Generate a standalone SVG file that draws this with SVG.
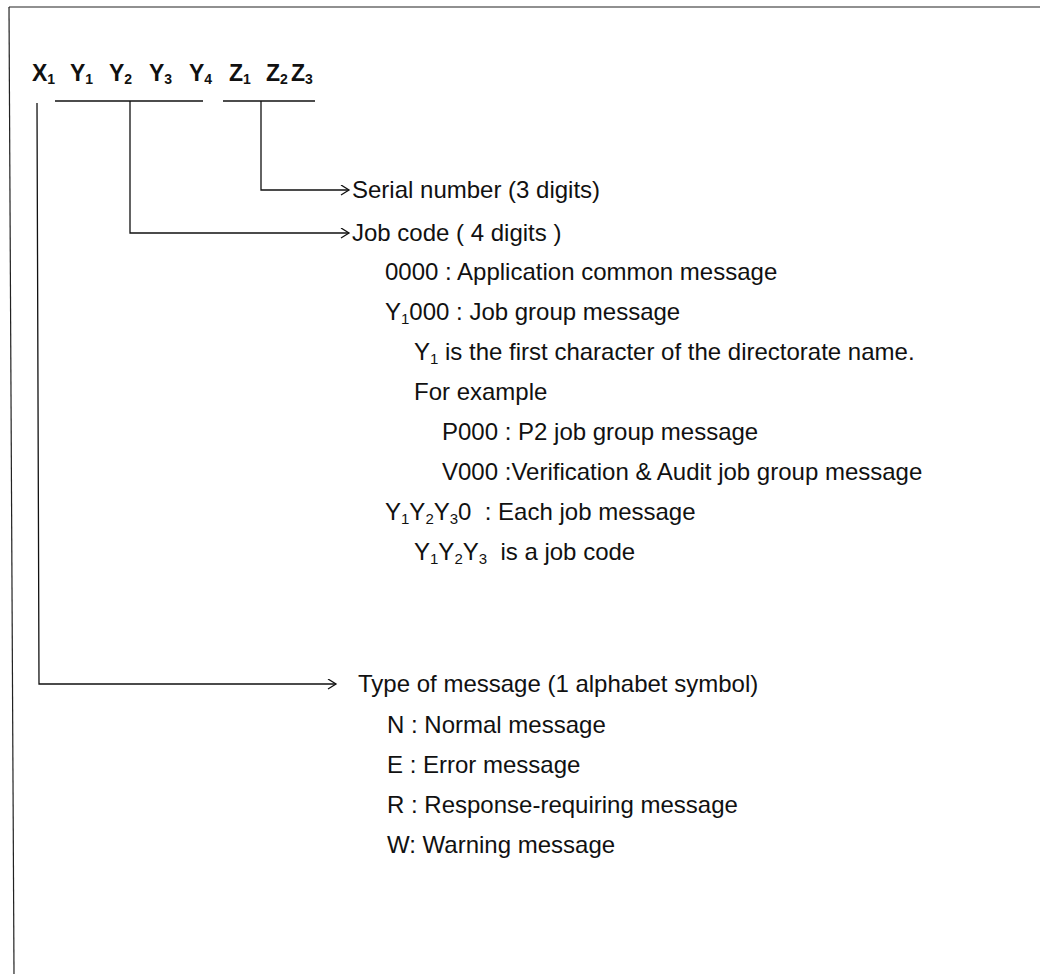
<svg xmlns="http://www.w3.org/2000/svg" width="1040" height="974" viewBox="0 0 1040 974">
  <style>
    .frame { stroke: #222; stroke-width: 1.2; fill: none; }
    .bar { stroke: #111; stroke-width: 1.4; fill: none; }
    .link { stroke: #111; stroke-width: 1.3; fill: none; }
    .hdr { font-family: "Liberation Sans", Arial, sans-serif; font-weight: bold; font-size: 23px; fill: #111; }
    .sub { font-size: 14px; }
    .t { font-family: "Liberation Sans", Arial, sans-serif; font-size: 24px; fill: #111; }
    .ts { font-size: 15px; }
  </style>
  <defs>
    <marker id="chev" markerWidth="12" markerHeight="12" refX="9" refY="5" orient="auto" markerUnits="userSpaceOnUse">
      <path d="M1,0 L9,5 L1,10" fill="none" stroke="#111" stroke-width="1.3"/>
    </marker>
  </defs>

  <rect x="0" y="0" width="1040" height="974" fill="#fff"/>

  <!-- page frame -->
  <g id="frame">
    <line class="frame" x1="9" y1="7" x2="1040" y2="7"/>
    <line class="frame" x1="9" y1="7" x2="14" y2="974"/>
  </g>

  <!-- code format header -->
  <g id="header">
    <text class="hdr" y="81">
      <tspan x="32">X</tspan><tspan class="sub" dy="3">1</tspan>
      <tspan x="70" dy="-3">Y</tspan><tspan class="sub" dy="3">1</tspan>
      <tspan x="109" dy="-3">Y</tspan><tspan class="sub" dy="3">2</tspan>
      <tspan x="149" dy="-3">Y</tspan><tspan class="sub" dy="3">3</tspan>
      <tspan x="189" dy="-3">Y</tspan><tspan class="sub" dy="3">4</tspan>
      <tspan x="229" dy="-3">Z</tspan><tspan class="sub" dy="3">1</tspan>
      <tspan x="266" dy="-3">Z</tspan><tspan class="sub" dy="3">2</tspan>
      <tspan x="291" dy="-3">Z</tspan><tspan class="sub" dy="3">3</tspan>
    </text>
    <line class="bar" x1="55" y1="101" x2="203" y2="101"/>
    <line class="bar" x1="223" y1="101" x2="315" y2="101"/>
  </g>

  <!-- leader lines -->
  <g id="connectors">
    <polyline class="link" points="261,101 261,190 349,190" marker-end="url(#chev)"/>
    <polyline class="link" points="130,101 130,233 349,233" marker-end="url(#chev)"/>
    <polyline class="link" points="37,103 39,684 336,684" marker-end="url(#chev)"/>
  </g>

  <!-- serial number field -->
  <g id="serial">
    <text class="t" x="352" y="198">Serial number (3 digits)</text>
  </g>

  <!-- job code field -->
  <g id="jobcode">
    <text class="t" x="352" y="241">Job code ( 4 digits )</text>
    <text class="t" x="385" y="280">0000 : Application common message</text>
    <text class="t" x="385" y="320">Y<tspan class="ts" dy="4">1</tspan><tspan dy="-4">000 : Job group message</tspan></text>
    <text class="t" x="414" y="360">Y<tspan class="ts" dy="4">1</tspan><tspan dy="-4"> is the first character of the directorate name.</tspan></text>
    <text class="t" x="414" y="400">For example</text>
    <text class="t" x="442" y="440">P000 : P2 job group message</text>
    <text class="t" x="442" y="480">V000 :Verification &amp; Audit job group message</text>
    <text class="t" x="385" y="520">Y<tspan class="ts" dy="4">1</tspan><tspan dy="-4">Y</tspan><tspan class="ts" dy="4">2</tspan><tspan dy="-4">Y</tspan><tspan class="ts" dy="4">3</tspan><tspan dy="-4" xml:space="preserve">0  : Each job message</tspan></text>
    <text class="t" x="414" y="560">Y<tspan class="ts" dy="4">1</tspan><tspan dy="-4">Y</tspan><tspan class="ts" dy="4">2</tspan><tspan dy="-4">Y</tspan><tspan class="ts" dy="4">3</tspan><tspan dy="-4" xml:space="preserve">  is a job code</tspan></text>
  </g>

  <!-- message type field -->
  <g id="msgtype">
    <text class="t" x="358" y="692">Type of message (1 alphabet symbol)</text>
    <text class="t" x="387" y="733">N : Normal message</text>
    <text class="t" x="387" y="773">E : Error message</text>
    <text class="t" x="387" y="813">R : Response-requiring message</text>
    <text class="t" x="387" y="853">W: Warning message</text>
  </g>
</svg>
